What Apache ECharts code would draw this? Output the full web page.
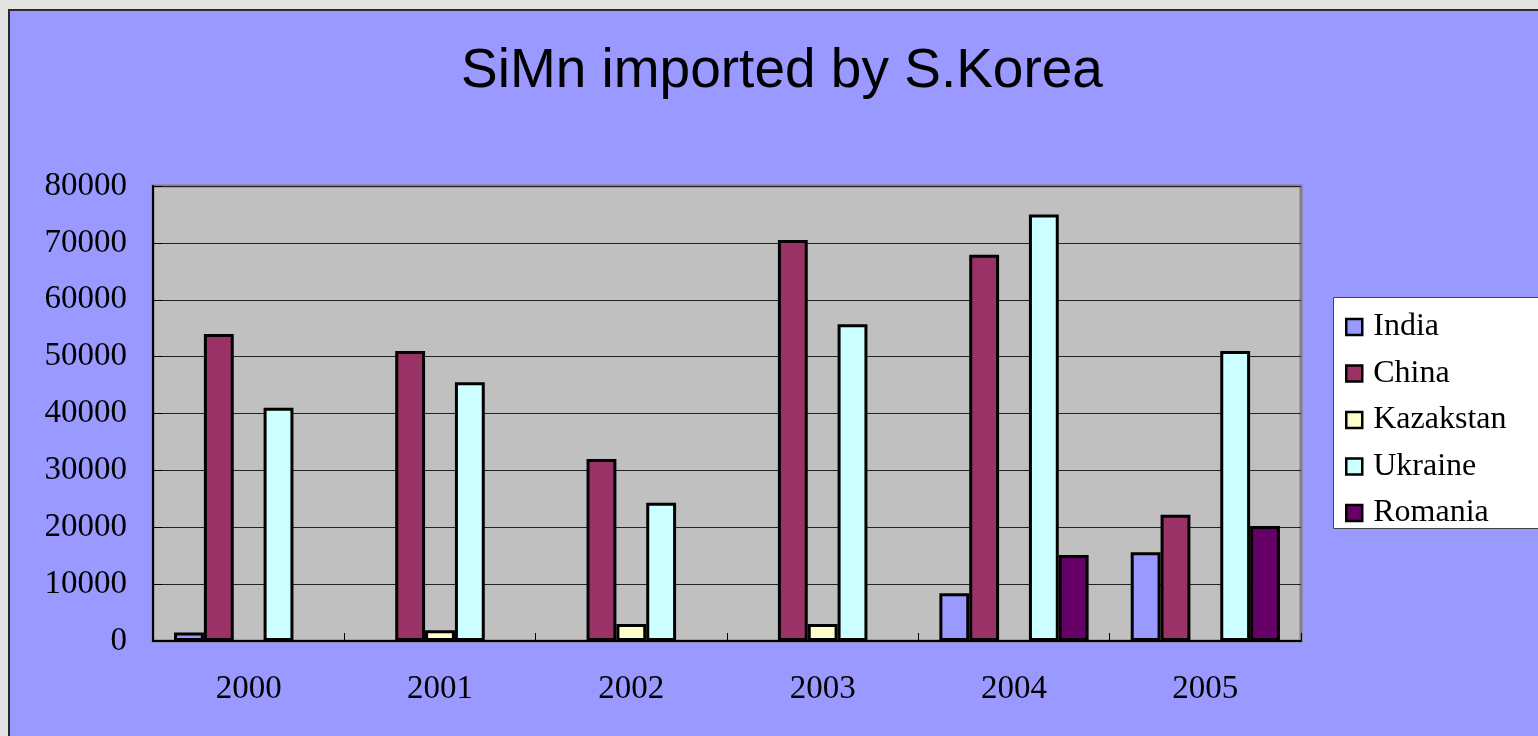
<!DOCTYPE html>
<html>
<head>
<meta charset="utf-8">
<script src="https://cdn.jsdelivr.net/npm/echarts@6/dist/echarts.min.js"></script>
<style>
html,body{margin:0;padding:0;background:#E4E4E4;}
#chart{width:1538px;height:736px;}
</style>
</head>
<body>
<div id="chart"></div>
<script>
const years = ['2000','2001','2002','2003','2004','2005'];
const india     = [1500, null, null, null, 8400, 15600];
const china     = [54000, 51000, 32000, 70500, 67900, 22200];
const kazakstan = [null, 1900, 3000, 3000, null, null];
const ukraine   = [41000, 45500, 24300, 55700, 75000, 51000];
const romania   = [null, null, null, null, 15100, 20200];
const seriesNames = ['India','China','Kazakstan','Ukraine','Romania'];
const seriesColors = ['#9999FF','#993366','#FFFFCC','#CCFFFF','#660066'];
const yTicks = [0,10000,20000,30000,40000,50000,60000,70000,80000];

const serif = '"Liberation Serif", "DejaVu Serif", serif';
const dataSets = [india, china, kazakstan, ukraine, romania];

const chart = echarts.init(document.getElementById('chart'));
chart.setOption({
  backgroundColor: '#E4E4E4',
  animation: false,
  graphic: [
    { type: 'rect', z: -10, shape: { x: 9, y: 10, width: 1540, height: 740 },
      style: { fill: '#9999FF', stroke: '#2a2a2a', lineWidth: 2 } },
    { type: 'rect', z: 0, shape: { x: 1333.5, y: 297.5, width: 220, height: 231 },
      style: { fill: '#FFFFFF', stroke: '#444444', lineWidth: 1 } }
  ],
  title: {
    text: 'SiMn imported by S.Korea',
    left: 461,
    top: 44,
    padding: 0,
    textStyle: { fontFamily: '"Liberation Sans", Arial, sans-serif', fontSize: 55, fontWeight: 'normal', color: '#000', lineHeight: 56 }
  },
  legend: {
    orient: 'vertical',
    left: 1345,
    top: 311,
    padding: 0,
    itemWidth: 16,
    itemHeight: 16,
    itemGap: 14.5,
    icon: 'rect',
    data: seriesNames,
    itemStyle: { borderColor: '#000', borderWidth: 2.5 },
    textStyle: { fontFamily: serif, fontSize: 32, color: '#000', lineHeight: 32, padding: [0,0,0,6] }
  },
  grid: {
    left: 153, top: 186, right: 237, bottom: 95,
    show: true, backgroundColor: '#C0C0C0', borderColor: '#808080', borderWidth: 3
  },
  xAxis: {
    type: 'category',
    data: years,
    axisLine: { lineStyle: { color: '#000', width: 2 } },
    axisTick: { show: true, inside: true, length: 8, lineStyle: { color: '#000', width: 1 } },
    axisLabel: { fontFamily: serif, fontSize: 33, color: '#000', margin: 32 }
  },
  yAxis: {
    type: 'value',
    min: 0, max: 80000, interval: 10000,
    axisLine: { show: true, lineStyle: { color: '#000', width: 2 } },
    axisTick: { show: true, inside: true, length: 9, lineStyle: { color: '#000' } },
    splitLine: { lineStyle: { color: '#222', width: 1 } },
    axisLabel: { fontFamily: serif, fontSize: 33, color: '#000', margin: 26,
      formatter: v => yTicks.includes(v) ? String(v) : '' }
  },
  series: seriesNames.map((n, i) => ({
    name: n,
    type: 'bar',
    data: dataSets[i],
    barGap: '0%',
    barCategoryGap: '22%',
    itemStyle: { color: seriesColors[i], borderColor: '#000', borderWidth: 3 }
  }))
});
</script>
</body>
</html>
